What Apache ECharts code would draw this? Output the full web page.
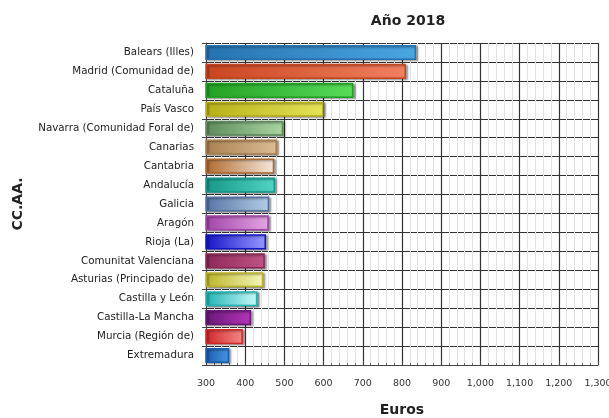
<!DOCTYPE html>
<html lang="es">
<head>
  <meta charset="UTF-8">
  <title>Año 2018</title>
  <style>
    body { margin: 0; padding: 0; background: #fff; }
    #chart { width: 609px; height: 418px; }
  </style>
</head>
<body>
  <div id="chart"></div>
  <script src="https://cdn.jsdelivr.net/npm/echarts@6/dist/echarts.min.js"></script>
  <script>
    // CC.AA. de arriba a abajo
    var regiones = ['Balears (Illes)', 'Madrid (Comunidad de)', 'Cataluña', 'País Vasco',
      'Navarra (Comunidad Foral de)', 'Canarias', 'Cantabria', 'Andalucía', 'Galicia',
      'Aragón', 'Rioja (La)', 'Comunitat Valenciana', 'Asturias (Principado de)',
      'Castilla y León', 'Castilla-La Mancha', 'Murcia (Región de)', 'Extremadura'];
    var euros = [836, 810, 676, 600, 497, 481, 474, 476, 461, 460, 453, 450, 446, 431, 415, 394, 359];
    // color oscuro / claro de cada barra
    var oscuros = ['#2672b0', '#c8461f', '#23a023', '#b8b018', '#5e8c5e', '#a88050', '#b06a30',
      '#179888', '#5474a4', '#a044a8', '#1414c8', '#8c2858', '#bcb428', '#20b4b4', '#681878', '#d02828', '#1c5cb0'];
    var claros = ['#4aa6e2', '#f08060', '#58dc58', '#e4e458', '#a8d4a0', '#dcbc94', '#f4e8dc', '#50d4c4',
      '#b4cce4', '#e4a4e4', '#9898ff', '#c05484', '#f4f4b8', '#c8f8f8', '#b434b8', '#f48888', '#4494e4'];
    var xTicks = { min: 300, max: 1300, interval: 100 };

    var chart = echarts.init(document.getElementById('chart'));

    // invertir para que Balears quede arriba
    var cats = regiones.slice().reverse();
    var data = euros.slice().reverse().map(function (v, i) {
      var k = regiones.length - 1 - i;
      return {
        value: v,
        itemStyle: {
          color: new echarts.graphic.LinearGradient(0, 0, 1, 0, [
            { offset: 0, color: oscuros[k] },
            { offset: 1, color: claros[k] }
          ]),
          borderColor: oscuros[k],
          borderWidth: 1.5,
          shadowColor: 'rgba(0,0,0,0.4)',
          shadowOffsetX: 2,
          shadowOffsetY: 1,
          shadowBlur: 2
        }
      };
    });

    var option = {
      animation: false,
      title: {
        text: 'Año 2018',
        left: 403,
        top: 9,
        textAlign: 'center',
        textStyle: { fontFamily: 'DejaVu Sans', fontSize: 14, fontWeight: 'bold', color: '#222' }
      },
      grid: { left: 206, right: 11, top: 43, bottom: 53, outerBoundsMode: 'none', containLabel: false },
      xAxis: {
        type: 'value',
        min: xTicks.min,
        max: xTicks.max,
        interval: xTicks.interval,
        name: 'Euros',
        nameLocation: 'middle',
        nameGap: 38,
        nameTextStyle: { fontFamily: 'DejaVu Sans', fontSize: 14, fontWeight: 'bold', color: '#222' },
        axisLine: { show: true, lineStyle: { color: '#444' } },
        axisTick: { show: true, length: 4, inside: true, lineStyle: { color: '#444' } },
        minorTick: { show: true, splitNumber: 5, length: 2, lineStyle: { color: '#666' } },
        axisLabel: {
          margin: 14,
          fontFamily: 'DejaVu Sans',
          fontSize: 9.5,
          color: '#333',
          formatter: function (v) { return v.toLocaleString('en-US'); }
        },
        splitLine: { show: true, lineStyle: { color: '#333', width: 1.2 } },
        minorSplitLine: { show: true, lineStyle: { color: '#e2e2e2' } }
      },
      yAxis: {
        type: 'category',
        data: cats,
        name: 'CC.AA.',
        nameLocation: 'middle',
        nameGap: 181,
        nameRotate: 90,
        nameTextStyle: { fontFamily: 'DejaVu Sans', fontSize: 14, fontWeight: 'bold', color: '#222' },
        axisLine: { show: true, lineStyle: { color: '#444' } },
        axisTick: { show: true, length: 4, lineStyle: { color: '#444' } },
        axisLabel: { margin: 12, fontFamily: 'DejaVu Sans', fontSize: 10.3, color: '#222' },
        splitLine: { show: true, lineStyle: { color: '#333', width: 1.2 } }
      },
      series: [{
        name: 'Euros',
        type: 'bar',
        barCategoryGap: '20%',
        data: data
      }]
    };

    chart.setOption(option);
  </script>
</body>
</html>
